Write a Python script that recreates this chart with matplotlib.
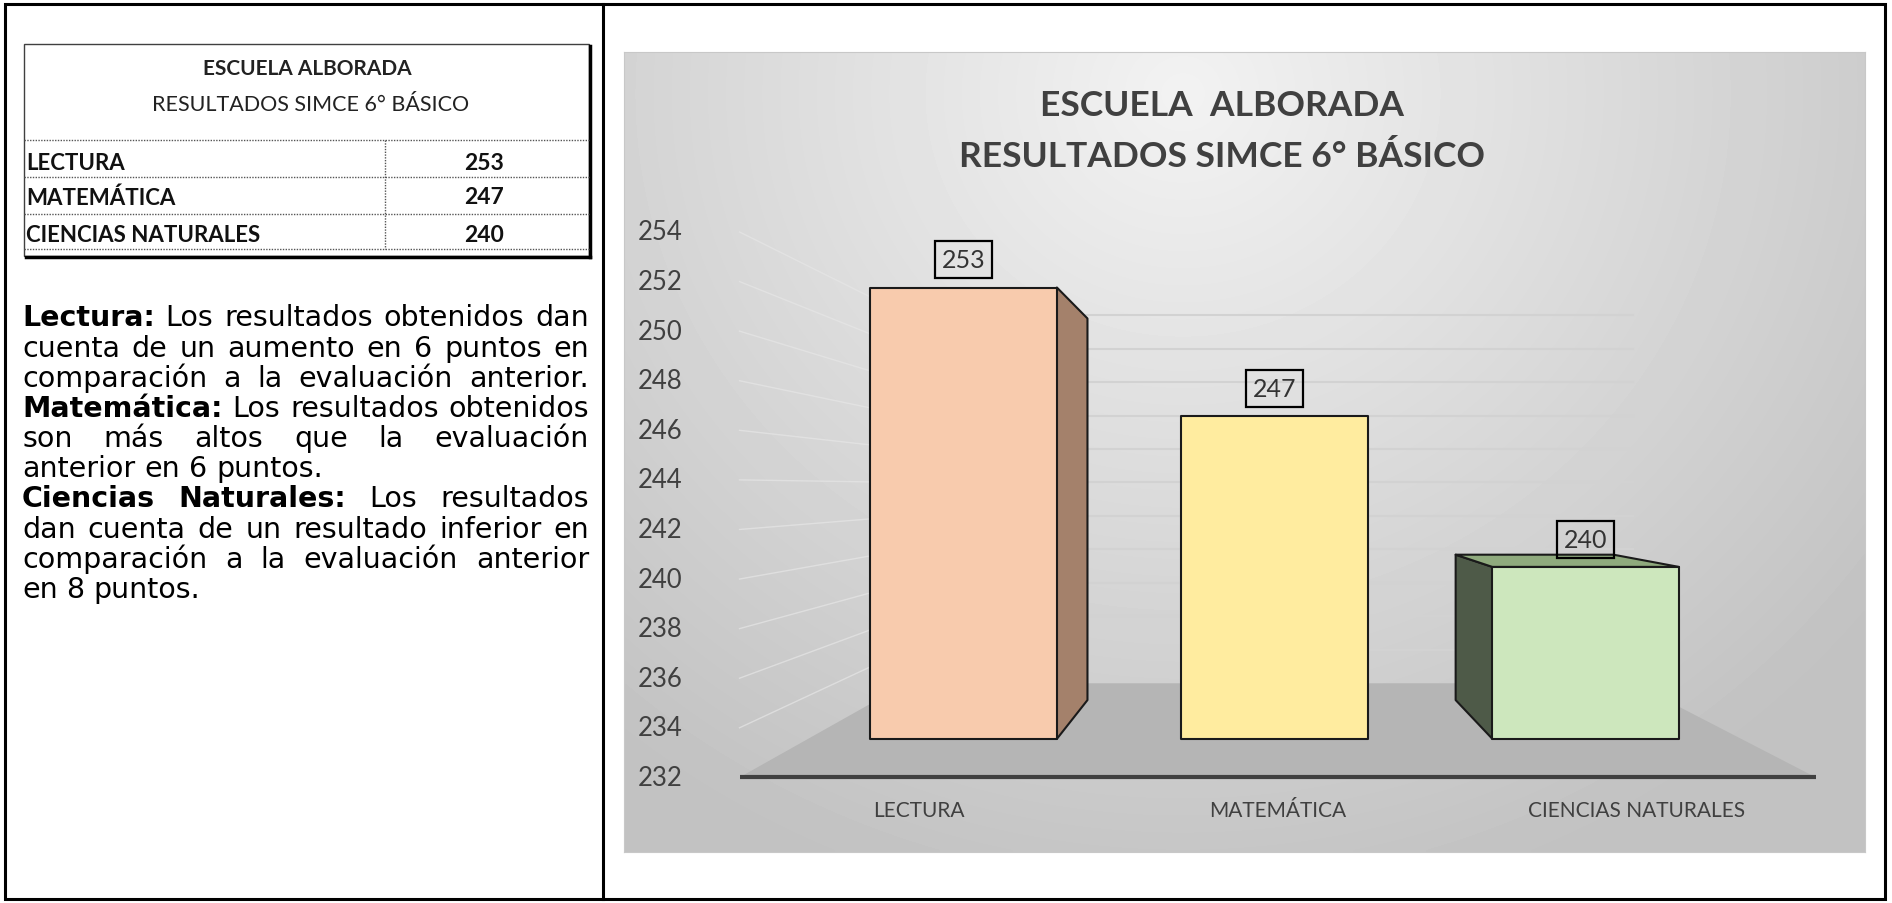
import matplotlib
matplotlib.use("Agg")
import matplotlib.pyplot as plt
import numpy as np
from matplotlib.patches import Polygon, Rectangle

# ---- datos ----
categorias = ["LECTURA", "MATEMÁTICA", "CIENCIAS NATURALES"]
puntajes = [253, 247, 240]
ticks_y = [232, 234, 236, 238, 240, 242, 244, 246, 248, 250, 252, 254]
titulo_tabla = "ESCUELA ALBORADA"
subtitulo_tabla = "RESULTADOS SIMCE 6° BÁSICO"
titulo_grafico = ["ESCUELA  ALBORADA", "RESULTADOS SIMCE 6° BÁSICO"]

# texto de la izquierda: (segmentos (texto, negrita), justificar)
parrafo = [
    ([("Lectura:", True), ("Los resultados obtenidos dan", False)], True),
    ([("cuenta de un aumento en 6 puntos en", False)], True),
    ([("comparación a la evaluación anterior.", False)], True),
    ([("Matemática:", True), ("Los resultados obtenidos", False)], True),
    ([("son más altos que la evaluación", False)], True),
    ([("anterior en 6 puntos.", False)], False),
    ([("Ciencias Naturales:", True), ("Los resultados", False)], True),
    ([("dan cuenta de un resultado inferior en", False)], True),
    ([("comparación a la evaluación anterior", False)], True),
    ([("en 8 puntos.", False)], False),
]

# colores de las barras (frente, lado, techo)
col_frente = ["#f8cbad", "#ffec9f", "#cde7bd"]
col_lado = ["#a4816b", "#c9b46a", "#4e5a48"]
col_techo = ["#e0b090", "#e6d07a", "#8faa7d"]

gris_txt = "#404040"
f_calibri = "Lato"
f_texto = "DejaVu Sans"

W, H = 1892, 904
fig = plt.figure(figsize=(W / 100, H / 100), dpi=100)
fig.patch.set_facecolor("white")
r = fig.canvas.get_renderer()

# ---- pagina (coordenadas en pixeles) ----
page = fig.add_axes([0, 0, 1, 1])
page.set_xlim(0, W)
page.set_ylim(H, 0)
page.axis("off")

page.add_patch(Rectangle((5, 5), 1880, 895, fill=False, ec="black", lw=2.2))
page.plot([603, 603], [5, 900], color="black", lw=2.2)

# tabla
tx0, tx1, ty0, ty1 = 24, 589, 45, 257
page.add_patch(Rectangle((tx0, ty0), tx1 - tx0, ty1 - ty0, fill=False, ec="#404040", lw=1))
page.plot([tx1 + 1, tx1 + 1], [ty0 + 2, ty1 + 1], color="black", lw=2.5)
page.plot([tx0 + 2, tx1 + 1], [ty1 + 1, ty1 + 1], color="black", lw=2.5)
for yy in [141, 178, 215, 250]:
    page.plot([tx0, tx1], [yy, yy], color="#555555", lw=1, ls=(0, (1, 1)))
page.plot([385, 385], [141, 250], color="#555555", lw=1, ls=(0, (1, 1)))

page.text(307, 69, titulo_tabla, ha="center", va="center", fontsize=15,
          fontweight="bold", family=f_calibri, color="#222222")
page.text(311, 105, subtitulo_tabla, ha="center", va="center", fontsize=15.5,
          family=f_calibri, color="#222222")
for i, (cat, val) in enumerate(zip(categorias, puntajes)):
    yy = [163, 198, 235][i]
    page.text(26, yy, cat, ha="left", va="center", fontsize=16,
              fontweight="bold", family=f_calibri, color="#111111")
    page.text(484, yy, str(val), ha="center", va="center", fontsize=16.5,
              fontweight="bold", family=f_calibri, color="#111111")

# parrafo justificado
px0, px1 = 22, 589


def medir(txt, size, neg=False):
    t = page.text(0, 0, txt, fontsize=size, family=f_texto,
                  fontweight="bold" if neg else "normal")
    w = t.get_window_extent(r).width
    t.remove()
    return w


espacio10 = medir("a a", 10) - medir("aa", 10)
naturales = []
for segmentos, justificar in parrafo:
    pal = [(w, neg) for txt, neg in segmentos for w in txt.split()]
    naturales.append(sum(medir(w, 10, neg) for w, neg in pal) + espacio10 * (len(pal) - 1))
size_par = 10 * (px1 - px0) / max(naturales) * 0.995
espacio = espacio10 * size_par / 10

for k, (segmentos, justificar) in enumerate(parrafo):
    base = 326.5 + 30.16 * k
    palabras = [(w, neg) for txt, neg in segmentos for w in txt.split()]
    textos = [page.text(0, base, w, fontsize=size_par, family=f_texto,
                        fontweight="bold" if neg else "normal", va="baseline",
                        ha="left", color="black") for w, neg in palabras]
    anchos = [t.get_window_extent(r).width for t in textos]
    if justificar and len(textos) > 1:
        gap = (px1 - px0 - sum(anchos)) / (len(textos) - 1)
    else:
        gap = espacio
    x = px0
    for t, a in zip(textos, anchos):
        t.set_x(x)
        x += a + gap

# ---- grafico con perspectiva ----
x_lo, x_hi = -0.322, 3.137
y_lo, y_hi = 228.99, 261.26
ax = fig.add_axes([624 / W, 1 - 853 / H, 1241 / W, 800 / H])
ax.set_xlim(x_lo, x_hi)
ax.set_ylim(y_lo, y_hi)
ax.set_xticks([])
ax.set_yticks([])
for sp in ax.spines.values():
    sp.set_color("#c8c8c8")

# fondo degradado
gy, gx = np.mgrid[0:1:200j, 0:1:300j]
dist = np.sqrt(((gx - 0.45) / 0.75) ** 2 + ((gy - 0.05) / 1.1) ** 2)
luz = np.clip(0.95 - 0.2 * dist, 0.76, 0.95)
ax.imshow(luz, cmap="gray", vmin=0, vmax=1, extent=(x_lo, x_hi, y_lo, y_hi),
          aspect="auto", zorder=0, interpolation="bilinear")

VPX, VPV = 1.436, 243.68
S_FONDO, S_FRENTE, S_ATRAS = 0.675, 0.867, 0.733
n = len(categorias)
base_v = ticks_y[0]


def proy(x, v, s):
    return VPX + s * (x - VPX), VPV + s * (v - VPV)


# pared izquierda (lineas inclinadas) y pared del fondo
for v in ticks_y[1:]:
    xa, ya = proy(0, v, S_FONDO)
    ax.plot([0, xa], [v, ya], color="#e6e6e6", lw=1.0, alpha=0.7, zorder=1)
    xb, yb = proy(n, v, S_FONDO)
    ax.plot([xa, xb], [ya, yb], color="#d2d2d2", lw=1.5, zorder=1)

# piso
piso = [(0, base_v), (n, base_v), proy(n, base_v, S_FONDO), proy(0, base_v, S_FONDO)]
ax.add_patch(Polygon(piso, closed=True, fc="#b5b5b5", ec="none", zorder=2))
ax.plot([0, n], [base_v, base_v], color=gris_txt, lw=3, zorder=3, solid_capstyle="butt")

# barras
hw = 0.30
for i, v in enumerate(puntajes):
    c = i + 0.5
    fl = proy(c - hw, base_v, S_FRENTE)
    fr = proy(c + hw, base_v, S_FRENTE)
    flt = proy(c - hw, v, S_FRENTE)
    frt = proy(c + hw, v, S_FRENTE)
    bl = proy(c - hw, base_v, S_ATRAS)
    br = proy(c + hw, base_v, S_ATRAS)
    blt = proy(c - hw, v, S_ATRAS)
    brt = proy(c + hw, v, S_ATRAS)
    kw = dict(closed=True, ec="#1a1a1a", lw=1.5, joinstyle="round")
    if c + hw < VPX:
        ax.add_patch(Polygon([fr, frt, brt, br], fc=col_lado[i], zorder=4, **kw))
    if c - hw > VPX:
        ax.add_patch(Polygon([fl, flt, blt, bl], fc=col_lado[i], zorder=4, **kw))
    if v < VPV:
        ax.add_patch(Polygon([flt, frt, brt, blt], fc=col_techo[i], zorder=4, **kw))
    ax.add_patch(Polygon([fl, fr, frt, flt], fc=col_frente[i], zorder=5, **kw))
    ax.annotate(str(v), xy=((flt[0] + frt[0]) / 2, flt[1]), xytext=(0, 20),
                textcoords="offset points", ha="center", va="center",
                fontsize=18, family=f_calibri, color="#333333", zorder=6,
                bbox=dict(boxstyle="square,pad=0.28", fc="none", ec="black", lw=1.6))
    ax.text(c, 230.68, categorias[i], ha="center", va="center", fontsize=15,
            family=f_calibri, color=gris_txt, zorder=6)

for v in ticks_y:
    ax.text(-0.158, v, str(v), ha="right", va="center", fontsize=18.5,
            family=f_calibri, color=gris_txt, zorder=6)

ax.text(0.482, 0.9335, titulo_grafico[0], transform=ax.transAxes, ha="center",
        va="center", fontsize=25.5, fontweight="bold", family=f_calibri, color=gris_txt)
ax.text(0.482, 0.870, titulo_grafico[1], transform=ax.transAxes, ha="center",
        va="center", fontsize=25.5, fontweight="bold", family=f_calibri, color=gris_txt)

fig.savefig("out.png", dpi=100)
